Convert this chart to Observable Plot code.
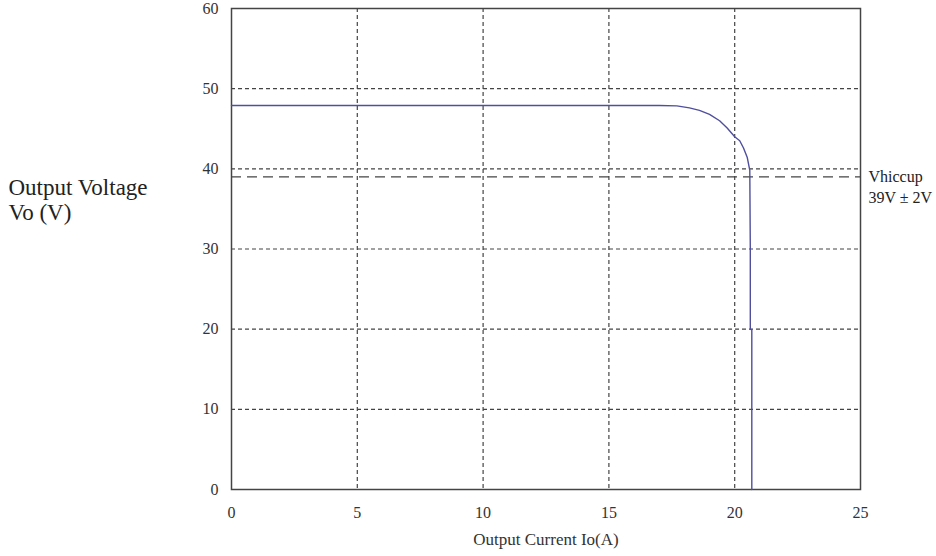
<!DOCTYPE html>
<html>
<head>
<meta charset="utf-8">
<script src="https://cdn.jsdelivr.net/npm/d3@7"></script>
<script src="https://cdn.jsdelivr.net/npm/@observablehq/plot@0.6"></script>
<style>
  html, body { margin: 0; padding: 0; background: #fff; }
  #chart { width: 936px; height: 556px; }
</style>
</head>
<body>
<div id="chart"></div>
<script>
// Output current (A) and output voltage (V) along the V–I curve
const currentA = [0, 17.0, 17.7, 18.2, 18.6, 19.0, 19.4, 19.7, 20.0, 20.2, 20.35, 20.5, 20.6, 20.62, 20.62, 20.68, 20.68];
const voltageV = [47.9, 47.9, 47.85, 47.6, 47.3, 46.8, 46.0, 45.1, 44.0, 43.5, 42.6, 41.4, 39.8, 30, 20, 19.9, 0];

const xTicks = [0, 5, 10, 15, 20, 25];
const yTicks = [0, 10, 20, 30, 40, 50, 60];
const xGrid = [5, 10, 15, 20];
const yGrid = [10, 20, 30, 40, 50];
const hiccupV = [39];
const hiccupLabel = "Vhiccup";
const hiccupRange = "39V ± 2V";
const xLabel = "Output Current Io(A)";
const yLabelLines = ["Output Voltage", "Vo (V)"];

const curve = currentA.map((c, i) => ({current: c, voltage: voltageV[i]}));

const chart = Plot.plot({
  width: 936,
  height: 556,
  marginLeft: 231,
  marginRight: 76,
  marginTop: 8,
  marginBottom: 67,
  style: {fontFamily: "'Liberation Serif', serif", fontSize: "16px", color: "#333", background: "#fff"},
  x: {domain: [0, 25]},
  y: {domain: [0, 60]},
  marks: [
    Plot.gridX(xGrid, {stroke: "#444", strokeOpacity: 1, strokeDasharray: "4,3", strokeWidth: 1.2}),
    Plot.gridY(yGrid, {stroke: "#444", strokeOpacity: 1, strokeDasharray: "4,3", strokeWidth: 1.2}),
    Plot.ruleY(hiccupV, {stroke: "#444", strokeDasharray: "10,6", strokeWidth: 1.2}),
    Plot.frame({stroke: "#444", strokeWidth: 1.5}),
    Plot.axisX({ticks: xTicks, tickSize: 0, tickPadding: 17, label: null, fill: "#333", fontSize: 16}),
    Plot.axisY({ticks: yTicks, tickSize: 0, tickPadding: 13, label: null, fill: "#333", fontSize: 16}),
    Plot.line(curve, {x: "current", y: "voltage", stroke: "#4f4f9e", strokeWidth: 1.4}),
    Plot.text([xLabel], {frameAnchor: "bottom", dy: 55, fontSize: 17, fill: "#333"}),
    Plot.text([yLabelLines[0]], {frameAnchor: "top-left", dx: -223, dy: 170, textAnchor: "start", fontSize: 23, fill: "#222"}),
    Plot.text([yLabelLines[1]], {frameAnchor: "top-left", dx: -223, dy: 195, textAnchor: "start", fontSize: 23, fill: "#222"}),
    Plot.text(hiccupV, {x: () => 25, y: d => d, text: () => hiccupLabel, dx: 8, dy: 0, textAnchor: "start", fontSize: 16, fill: "#222"}),
    Plot.text(hiccupV, {x: () => 25, y: d => d, text: () => hiccupRange, dx: 8, dy: 21, textAnchor: "start", fontSize: 16, fill: "#222"})
  ]
});
document.getElementById("chart").appendChild(chart);
</script>
</body>
</html>
